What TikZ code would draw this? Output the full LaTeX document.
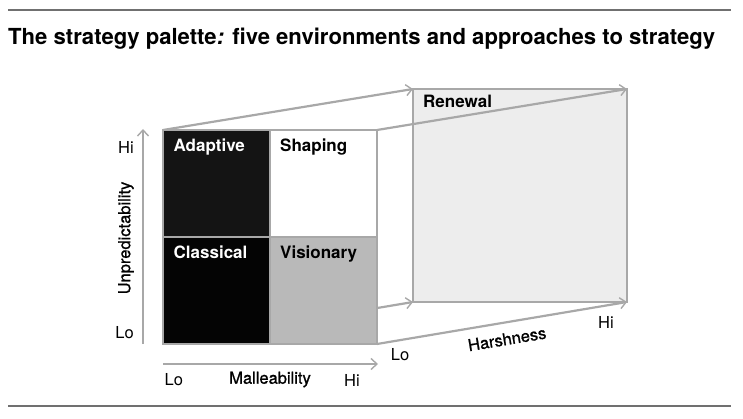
\documentclass[tikz,border=0pt]{standalone}
\usepackage{fontspec}
\setmainfont{TeX Gyre Heros}
\newfontfamily\medfont[FakeBold=1]{TeX Gyre Heros}
\usetikzlibrary{arrows.meta,calc}
\definecolor{rulegray}{HTML}{707070}
\definecolor{edgegray}{HTML}{A8A8A8}
\definecolor{adaptfill}{HTML}{141414}
\definecolor{classfill}{HTML}{040404}
\definecolor{visionfill}{HTML}{B9B9B9}
\definecolor{renewfill}{HTML}{EDEDED}
\tikzset{
  x=1pt, y=-1pt,
  cell/.style={draw=edgegray, line width=2.4pt, minimum width=107pt, minimum height=107pt, inner sep=0pt, outer sep=0pt, anchor=north west},
  celltext/.style={font=\fontsize{17}{20}\selectfont\bfseries, anchor=base west, inner sep=0pt},
  axistext/.style={font=\fontsize{16.5}{20}\selectfont, inner sep=0pt},
  axisname/.style={font=\fontsize{16.5}{20}\selectfont\medfont, inner sep=0pt},
  persp/.style={draw=edgegray, line width=2.2pt, -{Straight Barb[length=6pt,width=11pt,line width=1.4pt]}},
  axisarrow/.style={draw=edgegray, line width=2pt, -{Straight Barb[length=6pt,width=11pt,line width=1.4pt]}},
  rulel/.style={draw=rulegray, line width=1.1pt}
}
\begin{document}
\begin{tikzpicture}
\useasboundingbox (0,0) rectangle (743,419);
% rules
\coordinate (rtl) at (8,10);
\coordinate (rtr) at (731,10);
\coordinate (rbl) at (8,406);
\coordinate (rbr) at (731,406);
\draw[rulel] (rtl) -- (rtr);
\draw[rulel] (rbl) -- (rbr);
% title
\node[anchor=base west, inner sep=0pt, font=\fontsize{22.1}{26}\selectfont\bfseries] (title) at (8,44.5) {The strategy palette\textit{:} five environments and approaches to strategy};
% renewal box
\node[cell, fill=renewfill, minimum width=214pt, minimum height=213pt] (ren) at (413,89) {};
\node[celltext] (rentext) at (423,107.5) {Renewal};
% grid cells
\node[cell, fill=adaptfill] (adaptive) at (163,130) {};
\node[cell, fill=white] (shaping) at (270,130) {};
\node[cell, fill=classfill] (classical) at (163,237) {};
\node[cell, fill=visionfill] (visionary) at (270,237) {};
\node[draw=edgegray, line width=2.6pt, minimum width=214pt, minimum height=214pt, inner sep=0pt, outer sep=0pt, anchor=north west] (grid) at (163,130) {};
\node[celltext, text=white] (adtext) at (173.5,152) {Adaptive};
\node[celltext] (shtext) at (280,152) {Shaping};
\node[celltext, text=white] (cltext) at (173.5,258.5) {Classical};
\node[celltext] (vitext) at (280,258.5) {Visionary};
% perspective lines
\draw[persp] (grid.north west) -- (ren.north west);
\draw[persp] (grid.north east) -- (ren.north east);
\path (grid.south west) -- (ren.south west) coordinate[pos=0.856] (hid);
\draw[persp] (hid) -- (ren.south west);
\draw[persp] (grid.south east) -- (ren.south east);
% axes
\coordinate (vax0) at (143,344);
\coordinate (vax1) at (143,129);
\draw[axisarrow] (vax0) -- (vax1);
\coordinate (hax0) at (163,364);
\coordinate (hax1) at (378,364);
\draw[axisarrow] (hax0) -- (hax1);
\node[axistext, anchor=east] (vhi) at (134,147) {Hi};
\node[axistext, anchor=east] (vlo) at (134,333) {Lo};
\node[axisname, rotate=90] (vname) at (126,238) {Unpredictability};
\node[axistext, anchor=west] (hlo) at (164.5,380) {Lo};
\node[axisname] (hname) at (270,379.5) {Malleability};
\node[axistext] (hhi) at (352,380) {Hi};
\node[axistext] (dlo) at (400,355) {Lo};
\node[axistext] (dhi) at (606,322) {Hi};
\node[axisname, rotate=9.5] (dname) at (507,339) {Harshness};
\end{tikzpicture}
\end{document}
